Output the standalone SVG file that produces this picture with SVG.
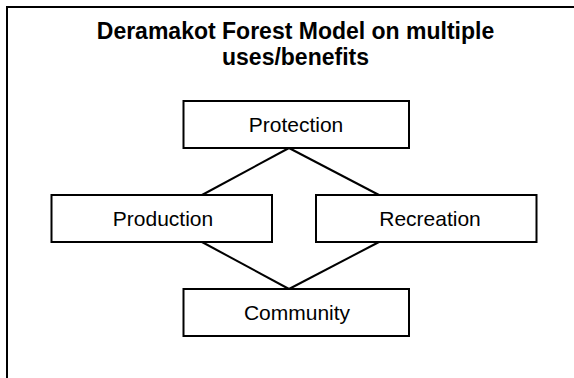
<svg xmlns="http://www.w3.org/2000/svg" width="574" height="378" viewBox="0 0 574 378">
  <style>
    .box { fill: #ffffff; stroke: #000000; stroke-width: 2; }
    .label { font-family: "Liberation Sans", Arial, sans-serif; font-size: 21px; fill: #000000; text-anchor: middle; }
    .title { font-family: "Liberation Sans", Arial, sans-serif; font-size: 23px; font-weight: bold; fill: #000000; text-anchor: middle; }
    .link { stroke: #000000; stroke-width: 2; fill: none; }
    .frame { stroke: #000000; stroke-width: 2; fill: none; }
  </style>
  <rect width="574" height="378" fill="#ffffff"/>
  <!-- open frame: top and left edges only -->
  <path class="frame" d="M7,378 V7 H574"/>
  <g id="title">
    <text class="title" x="295.5" y="39">Deramakot Forest Model on multiple</text>
    <text class="title" x="295.5" y="65">uses/benefits</text>
  </g>
  <g id="connectors">
    <line class="link" x1="289" y1="148" x2="202" y2="195"/>
    <line class="link" x1="289" y1="148" x2="379" y2="195"/>
    <line class="link" x1="202" y1="242" x2="289" y2="289"/>
    <line class="link" x1="379" y1="242" x2="289" y2="289"/>
  </g>
  <g id="protection">
    <rect class="box" x="183.5" y="101" width="225.5" height="47"/>
    <text class="label" x="296" y="132">Protection</text>
  </g>
  <g id="production">
    <rect class="box" x="51.5" y="195" width="220.5" height="47"/>
    <text class="label" x="163" y="226">Production</text>
  </g>
  <g id="recreation">
    <rect class="box" x="316" y="195" width="220.5" height="47"/>
    <text class="label" x="430" y="226">Recreation</text>
  </g>
  <g id="community">
    <rect class="box" x="183.5" y="289" width="225.5" height="47"/>
    <text class="label" x="297" y="320">Community</text>
  </g>
</svg>
